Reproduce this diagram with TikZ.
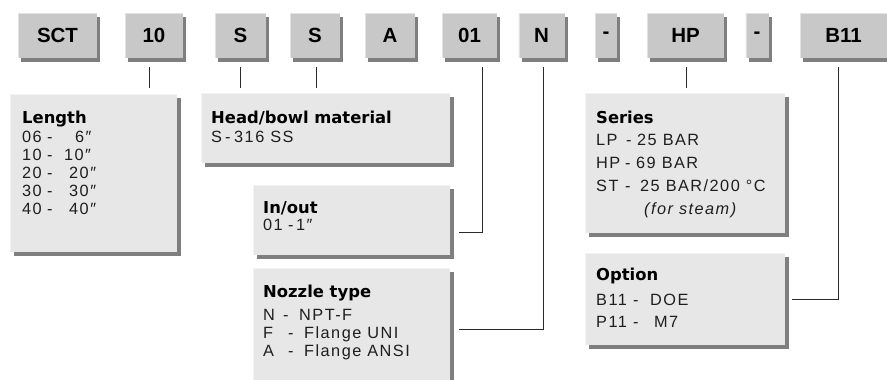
\documentclass[tikz,border=0pt]{standalone}
\usepackage{fontspec}
\setmainfont{DejaVu Sans}
\newfontfamily\bodyfont{Liberation Sans}[LetterSpace=9]
\newfontfamily\codefont{Liberation Sans}
\usetikzlibrary{calc,shadows}
\definecolor{topfill}{HTML}{C8C8C8}
\definecolor{tophl}{HTML}{E2E2E2}
\definecolor{lowfill}{HTML}{E7E7E7}
\definecolor{lowhl}{HTML}{F3F3F3}
\definecolor{shadowc}{HTML}{7F7F7F}
\definecolor{textc}{HTML}{1E1E1E}
\definecolor{linec}{HTML}{2A2A2A}
\tikzset{
  hlpic/.style={path picture={\draw[#1, line width=2.5pt]
      (path picture bounding box.south west) -- (path picture bounding box.north west)
      -- (path picture bounding box.north east);}},
  topbox/.style={rectangle, inner sep=0pt, fill=topfill, minimum height=45pt,
    drop shadow={shadow xshift=3pt, shadow yshift=-4pt, fill=shadowc, opacity=1},
    hlpic=tophl, text=black, font=\codefont\bfseries\fontsize{20.5}{24}\selectfont},
  lowbox/.style={rectangle, inner sep=0pt, fill=lowfill,
    drop shadow={shadow xshift=4pt, shadow yshift=-4pt, fill=shadowc, opacity=1},
    hlpic=lowhl},
  ttl/.style={anchor=base west, inner sep=0pt, text=black,
    font=\bfseries\fontsize{16.4}{18}\selectfont},
  bodytxt/.style={anchor=base west, inner sep=0pt, text=textc,
    font=\bodyfont\fontsize{16.3}{18}\selectfont},
  conn/.style={draw=linec, line width=1pt}
}
\begin{document}
\begin{tikzpicture}[x=1pt,y=-1pt]
\useasboundingbox (0,0) rectangle (887,380);
% top code boxes
\node[topbox, minimum width=79pt] (sct) at (57.5,35.5) {SCT};
\node[topbox, minimum width=58pt] (ten) at (154,35.5) {10};
\node[topbox, minimum width=51pt] (s1) at (240.5,35.5) {S};
\node[topbox, minimum width=50pt] (s2) at (315,35.5) {S};
\node[topbox, minimum width=50pt] (aa) at (390,35.5) {A};
\node[topbox, minimum width=55pt] (oi) at (469.5,35.5) {01};
\node[topbox, minimum width=46pt] (nn) at (541.5,35.5) {N};
\node[topbox, minimum width=22pt] (d1) at (606,35.5) {-};
\node[topbox, minimum width=77pt] (hp) at (685.5,35.5) {HP};
\node[topbox, minimum width=23pt] (d2) at (757,35.5) {-};
\node[topbox, minimum width=87pt] (b11) at (843.5,35.5) {B11};
% description boxes
\node[lowbox, minimum width=167pt, minimum height=158pt] (len) at (93.5,173) {};
\node[lowbox, minimum width=249pt, minimum height=70pt] (head) at (325.5,128) {};
\node[lowbox, minimum width=197pt, minimum height=70pt] (io) at (351.5,220) {};
\node[lowbox, minimum width=197pt, minimum height=120pt] (noz) at (351.5,328) {};
\node[lowbox, minimum width=200pt, minimum height=140pt] (ser) at (685,163) {};
\node[lowbox, minimum width=200pt, minimum height=92pt] (opt) at (685,299) {};
% connectors
\draw[conn] ([shift={(-5,9)}]ten.south) -- ++(0,21);
\draw[conn] ([shift={(0,9)}]s1.south) -- ++(0,21);
\draw[conn] ([shift={(1,9)}]s2.south) -- ++(0,21);
\draw[conn] ([shift={(0.5,9)}]hp.south) -- ++(0,21);
\draw[conn] ([shift={(12.5,9)}]oi.south) |- ([shift={(9,-23)}]io.south east);
\draw[conn] ([shift={(1.5,9)}]nn.south) |- ([shift={(9,62)}]noz.north east);
\draw[conn] ([shift={(-5.5,9)}]b11.south) |- ([shift={(7,47)}]opt.north east);
% Length
\node[ttl] (lent) at (22,123) {Length};
\node[bodytxt] (len1) at (22,142) {\makebox[25pt][l]{06}\makebox[28pt][l]{-}6″};
\node[bodytxt] (len2) at (22,160.2) {\makebox[25pt][l]{10}\makebox[17pt][l]{-}10″};
\node[bodytxt] (len3) at (22,178.4) {\makebox[25pt][l]{20}\makebox[22pt][l]{-}20″};
\node[bodytxt] (len4) at (22,196.6) {\makebox[25pt][l]{30}\makebox[22pt][l]{-}30″};
\node[bodytxt] (len5) at (22,214.8) {\makebox[25pt][l]{40}\makebox[22pt][l]{-}40″};
% Head/bowl
\node[ttl] (headt) at (211,123) {Head/bowl material};
\node[bodytxt] (head1) at (211,142) {\makebox[14pt][l]{S}\makebox[9pt][l]{-}316 SS};
% In/out
\node[ttl] (iot) at (263,213) {In/out};
\node[bodytxt] (io1) at (263,230.5) {\makebox[25pt][l]{01}\makebox[8pt][l]{-}1″};
% Nozzle
\node[ttl] (nozt) at (263,297) {Nozzle type};
\node[bodytxt] (noz1) at (263,320) {\makebox[20pt][l]{N}\makebox[16pt][l]{-}NPT-F};
\node[bodytxt] (noz2) at (263,338) {\makebox[25pt][l]{F}\makebox[16pt][l]{-}Flange UNI};
\node[bodytxt] (noz3) at (263,356) {\makebox[25pt][l]{A}\makebox[16pt][l]{-}Flange ANSI};
% Series
\node[ttl] (sert) at (596,123) {Series};
\node[bodytxt] (ser1) at (596,145) {\makebox[30pt][l]{LP}\makebox[11pt][l]{-}25 BAR};
\node[bodytxt] (ser2) at (596,168) {\makebox[29pt][l]{HP}\makebox[11pt][l]{-}69 BAR};
\node[bodytxt] (ser3) at (596,191) {\makebox[29pt][l]{ST}\makebox[15pt][l]{-}25 BAR/200 °C};
\node[bodytxt, font=\bodyfont\itshape\fontsize{16.3}{18}\selectfont] (ser4) at (644,214) {(for steam)};
% Option
\node[ttl] (optt) at (596,280) {Option};
\node[bodytxt] (opt1) at (596,305) {\makebox[37pt][l]{B11}\makebox[17pt][l]{-}DOE};
\node[bodytxt] (opt2) at (596,327) {\makebox[37pt][l]{P11}\makebox[21pt][l]{-}M7};
\end{tikzpicture}
\end{document}
